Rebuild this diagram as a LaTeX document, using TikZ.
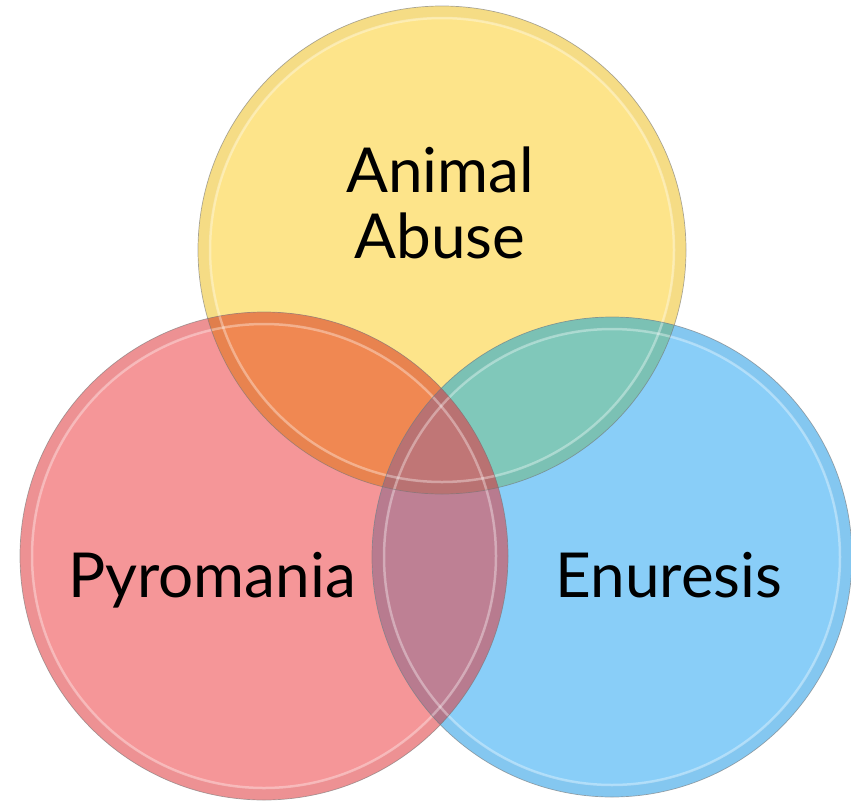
\documentclass[tikz,border=0pt]{standalone}
\usepackage{fontspec}
\setmainfont{Lato}
\usetikzlibrary{positioning}
\definecolor{abuseyellow}{RGB}{253,228,138}
\definecolor{pyrored}{RGB}{245,150,152}
\definecolor{enurblue}{RGB}{137,206,248}
\definecolor{overorange}{RGB}{240,136,82}
\definecolor{overteal}{RGB}{128,200,186}
\definecolor{overmauve}{RGB}{190,128,148}
\definecolor{overcore}{RGB}{192,118,118}
\newcommand{\abusecircle}{(442,250) circle[radius=244pt]}
\newcommand{\pyrocircle}{(264,556) circle[radius=244pt]}
\newcommand{\enurcircle}{(612,557) circle[radius=240pt]}
\tikzset{
  vennlabel/.style={font=\fontsize{62}{70}\selectfont,text=black,inner sep=0pt,anchor=base},
  rimband/.style={draw=black,line width=11pt,opacity=0.03},
  glossring/.style={draw=white,line width=2.5pt,opacity=0.35},
  rimline/.style={draw=black!55,line width=0.7pt,opacity=0.6}
}
\begin{document}
\begin{tikzpicture}[x=1pt,y=-1pt]
  \useasboundingbox (0,0) rectangle (851,803);
  % plain discs
  \fill[abuseyellow] \abusecircle;
  \fill[pyrored] \pyrocircle;
  \fill[enurblue] \enurcircle;
  % pairwise overlaps
  \begin{scope}
    \clip \pyrocircle;
    \fill[overorange] \abusecircle;
  \end{scope}
  \begin{scope}
    \clip \abusecircle;
    \fill[overteal] \enurcircle;
  \end{scope}
  \begin{scope}
    \clip \pyrocircle;
    \fill[overmauve] \enurcircle;
  \end{scope}
  % centre, all three
  \begin{scope}
    \clip \pyrocircle;
    \clip \abusecircle;
    \fill[overcore] \enurcircle;
  \end{scope}
  % glossy rims
  \draw[rimband] (442,250) circle[radius=238pt];
  \draw[rimband] (264,556) circle[radius=238pt];
  \draw[rimband] (612,557) circle[radius=234pt];
  \draw[glossring] (442,250) circle[radius=232pt];
  \draw[glossring] (264,556) circle[radius=232pt];
  \draw[glossring] (612,557) circle[radius=228pt];
  \draw[rimline] \abusecircle;
  \draw[rimline] \pyrocircle;
  \draw[rimline] \enurcircle;
  % labels
  \node[vennlabel] (animal) at (440,192) {Animal};
  \node[vennlabel] (abuse) at (440,258) {Abuse};
  \node[vennlabel] (pyro) at (212,597) {Pyromania};
  \node[vennlabel] (enur) at (669,597) {Enuresis};
\end{tikzpicture}
\end{document}
